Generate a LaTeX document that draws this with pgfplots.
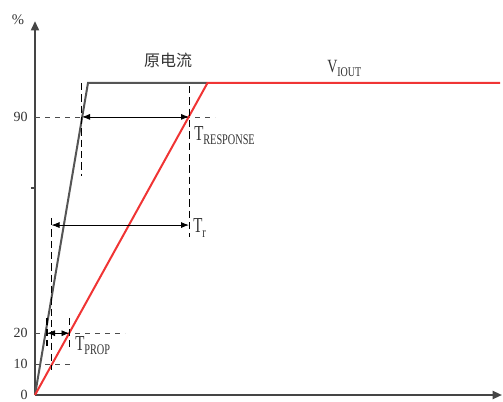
\documentclass[border=0pt]{standalone}
\usepackage{fontspec}
\setmainfont{Liberation Serif}
\newfontfamily\cjk{Noto Sans CJK SC}
\usepackage{graphicx}
\usepackage{pgfplots}
\pgfplotsset{compat=1.18}
\usetikzlibrary{arrows.meta}

\definecolor{axisgray}{HTML}{454545}
\definecolor{srcgray}{HTML}{555555}
\definecolor{outred}{HTML}{F03434}
\definecolor{txt}{HTML}{333333}

% condensed T with lowered subscript
\newcommand{\Tsub}[1]{\scalebox{0.7}[1]{\fontsize{16}{16}\selectfont T\raisebox{-3.5pt}{\fontsize{11}{11}\selectfont #1}}}

\tikzset{
  guide/.style={black, line width=1.1pt, dash pattern=on 5.5pt off 3pt},
  hguide/.style={black!70, line width=0.6pt, dash pattern=on 4pt off 3.5pt},
  span/.style={black, line width=0.6pt, {Latex[length=6pt,width=4.5pt]}-{Latex[length=6pt,width=4.5pt]}},
}

\begin{document}
\begin{tikzpicture}
\useasboundingbox (-26.25pt,-4.5pt) rectangle (351pt,296.25pt);
\begin{axis}[
    at={(0,0)}, anchor=origin,
    x=0.75pt, y=2.3175pt,
    xmin=0, xmax=467, ymin=0, ymax=121,
    axis lines=left,
    axis line style={axisgray, line width=1.5pt, -{Triangle[length=7pt,width=6pt]}},
    xtick=\empty,
    ytick={0,10,20,90},
    major tick length=0pt,
    yticklabel style={font=\fontsize{10.5}{10.5}\selectfont, text=txt, xshift=-2pt},
    /pgf/number format/assume math mode=true,
    extra y ticks={67},
    extra y tick labels={},
    extra tick style={major tick length=3pt, tick align=outside,
      tick style={axisgray, line width=1.2pt}},
    clip=false,
]
% horizontal guides
\draw[hguide] (axis cs:0,90) -- (axis cs:180,90);
\draw[hguide] (axis cs:0,20) -- (axis cs:90,20);
\draw[hguide] (axis cs:0,10) -- (axis cs:38,10);

% signals
\addplot[srcgray, line width=1.5pt] coordinates {(0,0) (53,101) (172,101)};
\addplot[outred, line width=1.5pt] coordinates {(0,0) (172.5,101) (465,101)};

% vertical guides
\draw[guide] (axis cs:46.5,101) -- (axis cs:46.5,71);
\draw[guide] (axis cs:154.5,100) -- (axis cs:154.5,51);
\draw[guide] (axis cs:16.5,57.3) -- (axis cs:16.5,8);
\draw[guide] (axis cs:12,25) -- (axis cs:12,16);
\draw[guide] (axis cs:34.5,25) -- (axis cs:34.5,15.5);

% spans
\draw[span] (axis cs:47,90) -- (axis cs:154,90);
\draw[span] (axis cs:16.5,55) -- (axis cs:154,55);
\draw[span] (axis cs:12,20) -- (axis cs:34.5,20);

% labels
\node[anchor=base west, text=txt, inner sep=0pt] at (axis cs:159,82.5) {\Tsub{RESPONSE}};
\node[anchor=base west, text=txt, inner sep=0pt] at (axis cs:158,52.5) {\Tsub{r}};
\node[anchor=base west, text=txt, inner sep=0pt] at (axis cs:40,14.5) {\Tsub{PROP}};
\node[text=txt, inner sep=0pt] at (axis cs:133,108.4) {\cjk\fontsize{12}{12}\selectfont 原电流};
\node[anchor=base west, text=txt, inner sep=0pt] at (axis cs:292,104.5)
  {\scalebox{0.75}[1]{\fontsize{14}{14}\selectfont V\raisebox{-3pt}{\fontsize{10}{10}\selectfont IOUT}}};
\node[text=txt, inner sep=0pt] at (axis cs:-17,121.5) {\fontsize{11}{11}\selectfont\%};
\end{axis}
\end{tikzpicture}
\end{document}
